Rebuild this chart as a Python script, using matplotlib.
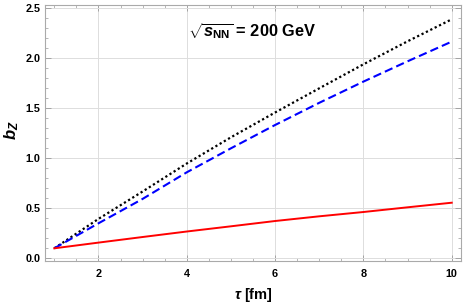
import numpy as np
import matplotlib
matplotlib.use("Agg")
import matplotlib.pyplot as plt
from matplotlib.ticker import MultipleLocator

plt.rcParams["font.family"] = ["Liberation Sans", "DejaVu Sans"]
plt.rcParams["font.weight"] = "bold"
plt.rcParams["mathtext.fontset"] = "custom"
plt.rcParams["mathtext.rm"] = "Liberation Sans:bold"
plt.rcParams["mathtext.it"] = "Liberation Sans:italic:bold"
plt.rcParams["mathtext.bf"] = "Liberation Sans:bold"

# values
tau = [1, 2, 3, 4, 5, 6, 7, 8, 9, 10]
b_black = [0.10, 0.394, 0.668, 0.948, 1.21, 1.458, 1.70, 1.94, 2.17, 2.39]
b_blue = [0.10, 0.350, 0.594, 0.860, 1.10, 1.333, 1.555, 1.767, 1.97, 2.167]
b_red = [0.10, 0.157, 0.213, 0.268, 0.320, 0.373, 0.420, 0.463, 0.510, 0.556]

fig = plt.figure(figsize=(4.63, 3.07), dpi=100)
ax = fig.add_axes([0.0972, 0.1498, 0.8985, 0.8339])

ax.plot(tau, b_black, color="black", ls=(0, (1, 1.2)), lw=1.6)
ax.plot(tau, b_blue, color="blue", ls=(0, (4, 2)), lw=1.5)
ax.plot(tau, b_red, color="red", ls="-", lw=1.4)

ax.set_xlim(0.79, 10.21)
ax.set_ylim(-0.027, 2.533)

ax.xaxis.set_major_locator(MultipleLocator(2))
ax.xaxis.set_minor_locator(MultipleLocator(0.5))
ax.yaxis.set_major_locator(MultipleLocator(0.5))
ax.yaxis.set_minor_locator(MultipleLocator(0.1))
ax.yaxis.set_major_formatter(matplotlib.ticker.FormatStrFormatter("%.1f"))

ax.tick_params(which="both", direction="in", top=True, right=True,
               color="#999999", labelsize=7.8, labelcolor="black")
ax.tick_params(which="major", length=4, width=0.6)
ax.tick_params(axis="x", which="major", pad=6)
ax.tick_params(which="minor", length=2.2, width=0.5)
for lab in ax.get_xticklabels() + ax.get_yticklabels():
    lab.set_fontweight("bold")
for sp in ax.spines.values():
    sp.set_color("#aaaaaa")
    sp.set_linewidth(0.8)

ax.grid(True, which="major", color="#dddddd", lw=0.7)
ax.set_axisbelow(True)

ax.set_xlabel(r"$\tau$ [fm]", fontsize=10.5, fontweight="bold", labelpad=5)
ax.set_ylabel(r"$b_Z$", fontsize=12)
ax.yaxis.set_label_coords(-0.058, 0.51)

ax.text(0.499, 0.898, r"$\sqrt{s_{\mathrm{NN}}}$ = 200 GeV", transform=ax.transAxes,
        fontsize=11.8, fontweight="bold", ha="center", va="center")

fig.savefig("out.png", dpi=100)
